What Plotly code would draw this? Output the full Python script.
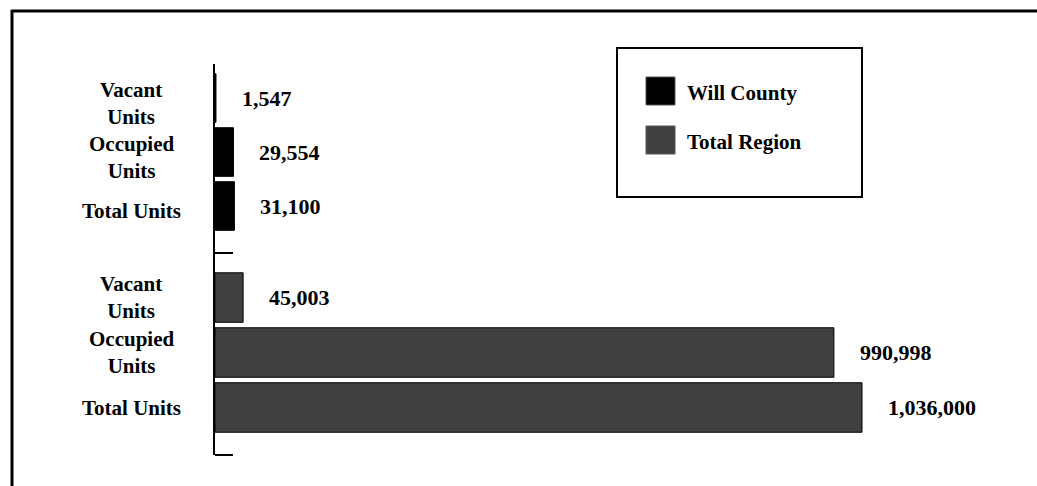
import plotly.graph_objects as go

# Housing units, Will County vs. the total region
categories = ["Vacant Units", "Occupied Units", "Total Units"]
category_labels = ["Vacant<br>Units", "Occupied<br>Units", "Total Units"]
will_county = [1547, 29554, 31100]
total_region = [45003, 990998, 1036000]

series_names = ["Will County", "Total Region"]
series_colors = ["#000000", "#404040"]

W, H = 1037, 486
L, R, T, B = 215, 37, 64, 31
PW, PH = W - L - R, H - T - B
FONT = "Liberation Serif"


def px_x(p):
    return (p - L) / PW


def px_y(p):
    return (H - B - p) / PH


split = px_y(253)

fig = go.Figure()
fig.add_trace(go.Bar(
    x=will_county, y=categories, orientation="h", name=series_names[0],
    marker=dict(color=series_colors[0], line=dict(color="#000000", width=1)),
    width=0.9, xaxis="x", yaxis="y2", showlegend=False, hoverinfo="x+y",
))
fig.add_trace(go.Bar(
    x=total_region, y=categories, orientation="h", name=series_names[1],
    marker=dict(color=series_colors[1], line=dict(color="#000000", width=1)),
    width=0.9, xaxis="x", yaxis="y", showlegend=False, hoverinfo="x+y",
))

annotations = []
label_font = dict(family=FONT, size=21, color="#000000")
value_font = dict(family=FONT, size=22, color="#000000")
for yref, values, shift in (("y2", will_county, -5), ("y", total_region, 0)):
    for cat, lab, v in zip(categories, category_labels, values):
        annotations.append(dict(
            x=px_x(131), xref="paper", y=cat, yref=yref, text=f"<b>{lab}</b>",
            showarrow=False, xanchor="center", yanchor="middle", align="center",
            yshift=shift, font=label_font,
        ))
        annotations.append(dict(
            x=v, xref="x", y=cat, yref=yref, text=f"<b>{v:,}</b>",
            showarrow=False, xanchor="left", yanchor="middle", xshift=24,
            font=value_font,
        ))

shapes = []
# outer frame (top and left edges)
shapes.append(dict(type="line", xref="paper", yref="paper",
                   x0=px_x(11), x1=px_x(W + 5), y0=px_y(11), y1=px_y(11),
                   line=dict(color="#000000", width=3)))
shapes.append(dict(type="line", xref="paper", yref="paper",
                   x0=px_x(12), x1=px_x(12), y0=px_y(10), y1=px_y(H + 5),
                   line=dict(color="#000000", width=3)))
# group separator ticks on the category axis
for py in (253, 455):
    shapes.append(dict(type="line", xref="paper", yref="paper",
                       x0=0, x1=px_x(233), y0=px_y(py), y1=px_y(py),
                       line=dict(color="#000000", width=2)))
# legend box with swatches
shapes.append(dict(type="rect", xref="paper", yref="paper",
                   x0=px_x(617), x1=px_x(862), y0=px_y(197), y1=px_y(48),
                   line=dict(color="#000000", width=2), fillcolor="white"))
for (top, color, name) in ((77, series_colors[0], series_names[0]),
                           (126, series_colors[1], series_names[1])):
    shapes.append(dict(type="rect", xref="paper", yref="paper",
                       x0=px_x(646), x1=px_x(675), y0=px_y(top + 28), y1=px_y(top),
                       line=dict(color="#555555", width=1), fillcolor=color))
    annotations.append(dict(
        x=px_x(685), xref="paper", y=px_y(top + 16), yref="paper",
        text=f"<b>{name}</b>", showarrow=False, xanchor="left", yanchor="middle",
        font=label_font,
    ))

fig.update_layout(
    width=W, height=H,
    margin=dict(l=L, r=R, t=T, b=B),
    paper_bgcolor="white", plot_bgcolor="white",
    xaxis=dict(range=[0, 1036000 * PW / 647], visible=False, fixedrange=True),
    yaxis=dict(domain=[0, split], type="category", categoryarray=categories,
               range=[2.864, -0.81], showticklabels=False, ticks="",
               showgrid=False, zeroline=False, showline=True,
               linecolor="#000000", linewidth=1.5, anchor="x"),
    yaxis2=dict(domain=[split, 1], type="category", categoryarray=categories,
                range=[2.87, -0.63], showticklabels=False, ticks="",
                showgrid=False, zeroline=False, showline=True,
                linecolor="#000000", linewidth=1.5, anchor="x"),
    annotations=annotations,
    shapes=shapes,
    barmode="overlay",
)

fig.write_html("out.html")
